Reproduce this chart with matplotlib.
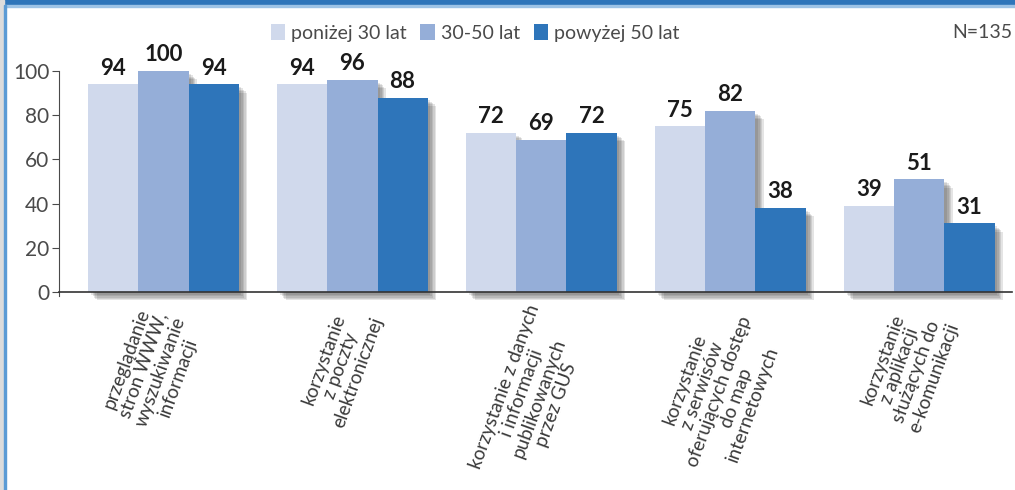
import numpy as np
import matplotlib.pyplot as plt
from matplotlib import patheffects as pe
from matplotlib.patches import Rectangle

kategorie = [
    "przeglądanie\nstron WWW,\nwyszukiwanie\ninformacji",
    "korzystanie\nz poczty\nelektronicznej",
    "korzystanie z danych\ni informacji\npublikowanych\nprzez GUS",
    "korzystanie\nz serwisów\noferujących dostęp\ndo map\ninternetowych",
    "korzystanie\nz aplikacji\nsłużących do\ne-komunikacji",
]
grupy = ["poniżej 30 lat", "30-50 lat", "powyżej 50 lat"]
ponizej_30 = [94, 94, 72, 75, 39]
od_30_do_50 = [100, 96, 69, 82, 51]
powyzej_50 = [94, 88, 72, 38, 31]

kolory = ["#D0D9EC", "#95AED8", "#2E75BA"]
szary = "#4a4a4a"

plt.rcParams["font.family"] = ["Lato", "DejaVu Sans"]

fig = plt.figure(figsize=(10.15, 4.9), dpi=100)
ax = fig.add_axes([59 / 1015, 198 / 490, 953 / 1015, 221 / 490])

x = np.arange(len(kategorie))
w = 0.265
# miękki cień: kilka warstw z małą przezroczystością
cien = [pe.SimplePatchShadow(offset=(d, -d), shadow_rgbFace="#333333", alpha=0.13)
        for d in (6, 5, 4, 3, 2)] + [pe.Normal()]

for k, (seria, kol) in enumerate(zip([ponizej_30, od_30_do_50, powyzej_50], kolory)):
    pos = x + (k - 1) * w
    bars = ax.bar(pos, seria, width=w, color=kol, label=grupy[k], zorder=3 + k)
    for b in bars:
        b.set_path_effects(cien)
        b.set_clip_on(False)
    for p, v in zip(pos, seria):
        ax.annotate(str(v), (p, v), xytext=(0, 4), textcoords="offset points",
                    ha="center", va="bottom", fontsize=16, fontweight="bold",
                    color="#1a1a1a", annotation_clip=False)

ax.set_ylim(0, 100)
ax.set_xlim(-0.553, 4.49)
ax.set_yticks(range(0, 101, 20))
ax.tick_params(axis="y", direction="out", length=5, color=szary, labelsize=15,
               labelcolor=szary, pad=2)
ax.set_xticks([])
for s in ["top", "right"]:
    ax.spines[s].set_visible(False)
ax.spines["left"].set_color(szary)
ax.spines["bottom"].set_color("#333333")
ax.spines["bottom"].set_linewidth(1.2)
ax.spines["bottom"].set_zorder(10)
ax.spines["left"].set_bounds(-2, 100)

# opisy kategorii pod osią, obrócone
for i, nazwa in enumerate(kategorie):
    ax.text(i - 0.06, -0.045, nazwa, transform=ax.get_xaxis_transform(),
            rotation=70, ha="center", va="top", multialignment="center",
            fontsize=13.6, color="#3a3a3a", linespacing=1.08)

leg = fig.legend(loc="center", bbox_to_anchor=(0.468, 0.933), ncol=3, frameon=False,
                 handlelength=0.75, handleheight=0.9, handletextpad=0.3,
                 columnspacing=0.7, fontsize=14, labelcolor=szary)
for h in leg.legend_handles:
    h.set_path_effects([])

fig.text(0.997, 0.933, "N=135", ha="right", va="center", fontsize=14, color=szary)

# pasek nagłówka i ramka po lewej
fig.patches.append(Rectangle((0, 1 - 5 / 490), 1, 5 / 490, transform=fig.transFigure,
                             color="#2E75BA", zorder=0))
fig.patches.append(Rectangle((0, 1 - 7 / 490), 1, 2 / 490, transform=fig.transFigure,
                             color="#9DC3E6", zorder=0))
fig.patches.append(Rectangle((0, 0), 4 / 1015, 1, transform=fig.transFigure,
                             color="#dcdcdc", zorder=0))
fig.patches.append(Rectangle((4 / 1015, 0), 2 / 1015, 1 - 5 / 490, transform=fig.transFigure,
                             color="#5B9BD5", zorder=0))

fig.savefig("out.png", dpi=100)
